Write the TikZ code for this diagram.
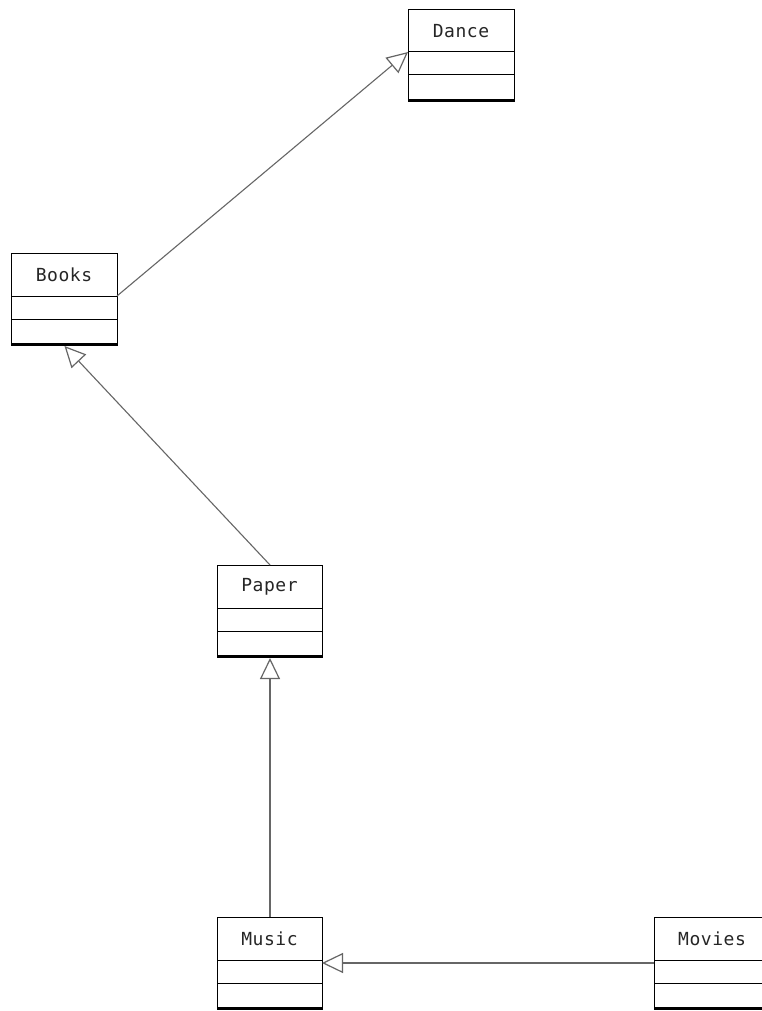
\documentclass[tikz,border=0pt]{standalone}
\usepackage{fontspec}
\newfontfamily\classfont[LetterSpace=3]{DejaVu Sans Mono}
\usetikzlibrary{arrows.meta,calc}

\tikzset{
  classbox/.style={draw=black, line width=1pt, inner sep=0pt, anchor=north west,
                   minimum height=92pt},
  classname/.style={font=\classfont\fontsize{18}{20}\selectfont, text=black!85},
  divider/.style={draw=black, line width=1pt},
  basebar/.style={draw=black, line width=2.4pt},
  inherit/.style={draw=black!60, line width=1.6pt,
                  -{Triangle[open, length=21pt, width=20pt, line width=1.2pt]}},
}

% UML class box: name, left, top, width, label
\newcommand{\umlclass}[5]{%
  \node[classbox, minimum width=#4pt] (#1) at (#2,#3) {};
  \node[classname] (#1-name) at ($(#2,#3)+(#4/2,22)$) {#5};
  \coordinate (#1-hl) at ($(#2,#3)+(0,43)$);
  \coordinate (#1-hr) at ($(#2,#3)+(#4,43)$);
  \draw[divider] (#1-hl) -- (#1-hr);
  \draw[divider] ($(#2,#3)+(0,66)$) -- ($(#2,#3)+(#4,66)$);
  \draw[basebar] ($(#2,#3)+(0,91)$) -- ($(#2,#3)+(#4,91)$);
}

\begin{document}
\begin{tikzpicture}[x=1pt, y=-1pt]
  \useasboundingbox (0,0) rectangle (762,1011);
  \clip (0,0) rectangle (762,1011);
  \fill[white] (0,0) rectangle (762,1011);

  \umlclass{dance}{408}{9}{106}{Dance}
  \umlclass{books}{11}{253}{106}{Books}
  \umlclass{paper}{217}{565}{105}{Paper}
  \umlclass{music}{217}{917}{105}{Music}
  \umlclass{movies}{654}{917}{116}{Movies}

  \draw[inherit, line width=1.1pt] (books-hr) -- (dance-hl);
  \draw[inherit, line width=1.1pt] (paper.north) -- (books.south);
  \draw[inherit] (music.north) -- (paper.south);
  \draw[inherit] ($(movies-hl)+(0,3)$) -- ($(music-hr)+(0,3)$);
\end{tikzpicture}
\end{document}
